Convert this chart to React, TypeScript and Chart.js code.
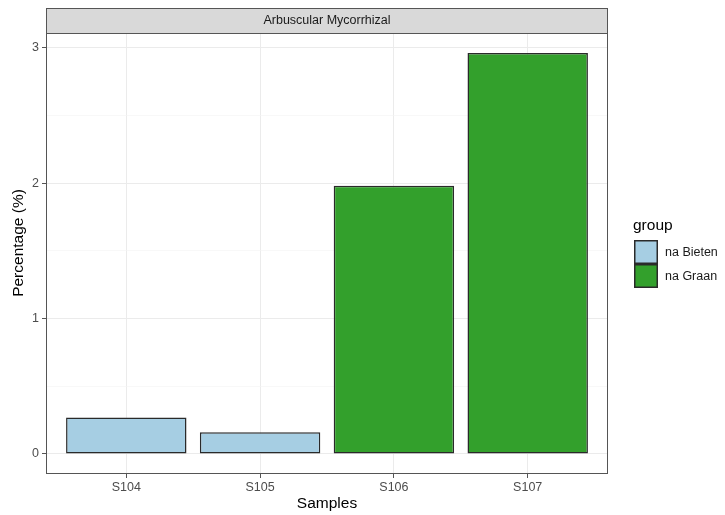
import React, { useEffect, useRef } from "react";
import { Chart, registerables } from "chart.js";

Chart.register(...registerables);

const samples = ["S104", "S105", "S106", "S107"];
const groups = ["na Bieten", "na Graan"];
const bietenValues: (number | null)[] = [0.27, 0.16, null, null];
const graanValues: (number | null)[] = [null, null, 1.98, 2.96];
const groupColors = ["#a6cee3", "#33a02c"];
const yMajorTicks = [0, 1, 2, 3];
const yMinorTicks = [0.5, 1.5, 2.5];
const stripLabel = "Arbuscular Mycorrhizal";
const xTitle = "Samples";
const yTitle = "Percentage (%)";
const legendTitle = "group";

const FONT = "'Liberation Sans', Arial, sans-serif";
const SMALL = 12.5;
const TITLE = 15.5;

function toPoints(values: (number | null)[]) {
  const pts: { x: number; y: number }[] = [];
  values.forEach((v, i) => {
    if (v !== null) pts.push({ x: i + 1, y: v });
  });
  return pts;
}

const allValues = [...bietenValues, ...graanValues].filter((v) => v !== null) as number[];
const dataMax = Math.max(...allValues);
const yMin = -0.05 * dataMax;
const yMax = dataMax * 1.05;

const decorPlugin = {
  id: "decor",
  beforeDraw(chart: any) {
    const { ctx } = chart;
    ctx.save();
    ctx.fillStyle = "#ffffff";
    ctx.fillRect(0, 0, chart.width, chart.height);
    ctx.restore();
  },
  afterDraw(chart: any) {
    const { ctx, chartArea: a } = chart;
    ctx.save();
    // panel border
    ctx.strokeStyle = "#555555";
    ctx.lineWidth = 1;
    ctx.strokeRect(a.left + 0.5, a.top + 0.5, a.right - a.left - 1, a.bottom - a.top - 1);
    // strip
    const stripTop = 8;
    ctx.fillStyle = "#d9d9d9";
    ctx.fillRect(a.left, stripTop, a.right - a.left, a.top - stripTop);
    ctx.strokeRect(a.left + 0.5, stripTop + 0.5, a.right - a.left - 1, a.top - stripTop);
    ctx.fillStyle = "#1a1a1a";
    ctx.font = `${SMALL}px ${FONT}`;
    ctx.textAlign = "center";
    ctx.textBaseline = "middle";
    ctx.fillText(stripLabel, (a.left + a.right) / 2, (stripTop + a.top) / 2 + 0.5);
    // axis titles
    ctx.fillStyle = "#000000";
    ctx.font = `${TITLE}px ${FONT}`;
    ctx.fillText(xTitle, (a.left + a.right) / 2, 504);
    ctx.save();
    ctx.translate(19, (stripTop + a.bottom) / 2 + 2);
    ctx.rotate(-Math.PI / 2);
    ctx.fillText(yTitle, 0, 0);
    ctx.restore();
    // legend
    ctx.textAlign = "left";
    ctx.font = `${TITLE}px ${FONT}`;
    ctx.fillText(legendTitle, 633, 226);
    const keyX = 634;
    const keyY = 240;
    const keySize = 24;
    groups.forEach((g, i) => {
      ctx.fillStyle = groupColors[i];
      ctx.fillRect(keyX, keyY + i * keySize, keySize, keySize);
      ctx.strokeStyle = "#2a2a2a";
      ctx.lineWidth = 1.5;
      ctx.strokeRect(keyX + 0.75, keyY + i * keySize + 0.75, keySize - 1.5, keySize - 1.5);
      ctx.fillStyle = "#1a1a1a";
      ctx.font = `${SMALL}px ${FONT}`;
      ctx.fillText(g, 665, keyY + i * keySize + keySize / 2 + 0.5);
    });
    ctx.restore();
  },
};

export default function App() {
  const canvasRef = useRef<HTMLCanvasElement | null>(null);

  useEffect(() => {
    if (!canvasRef.current) return;
    const chart = new Chart(canvasRef.current, {
      type: "bar",
      data: {
        datasets: [
          {
            label: groups[0],
            data: toPoints(bietenValues) as any,
            backgroundColor: groupColors[0],
            borderColor: "#2a2a2a",
            borderWidth: 1.5,
            borderSkipped: false,
          },
          {
            label: groups[1],
            data: toPoints(graanValues) as any,
            backgroundColor: groupColors[1],
            borderColor: "#2a2a2a",
            borderWidth: 1.5,
            borderSkipped: false,
          },
        ],
      },
      options: {
        animation: false,
        responsive: false,
        devicePixelRatio: 1,
        grouped: false,
        categoryPercentage: 0.9,
        barPercentage: 1,
        layout: { padding: { left: 0, top: 33, right: 117, bottom: 0 } },
        plugins: {
          legend: { display: false },
          tooltip: { enabled: false },
        },
        scales: {
          x: {
            type: "linear",
            min: 0.4,
            max: samples.length + 0.6,
            offset: false,
            afterBuildTicks: (scale: any) => {
              scale.ticks = samples.map((_, i) => ({ value: i + 1 }));
            },
            afterFit: (scale: any) => {
              scale.height = 41;
            },
            border: { display: false },
            grid: {
              offset: false,
              color: "#ebebeb",
              lineWidth: 1,
              tickLength: 4,
              tickColor: "#555555",
            },
            ticks: {
              color: "#4d4d4d",
              font: { family: FONT, size: SMALL },
              padding: 2,
              maxRotation: 0,
              callback: (v: any) => samples[Math.round(Number(v)) - 1] ?? "",
            },
          },
          y: {
            type: "linear",
            min: yMin,
            max: yMax,
            afterBuildTicks: (scale: any) => {
              scale.ticks = [...yMajorTicks, ...yMinorTicks]
                .sort((a, b) => a - b)
                .map((v) => ({ value: v }));
            },
            afterFit: (scale: any) => {
              scale.width = 46;
            },
            border: { display: false },
            grid: {
              color: (c: any) => (Number.isInteger(c.tick?.value) ? "#ebebeb" : "#f4f4f4"),
              lineWidth: (c: any) => (Number.isInteger(c.tick?.value) ? 1 : 0.6),
              tickLength: 4,
              tickColor: (c: any) => (Number.isInteger(c.tick?.value) ? "#555555" : "rgba(0,0,0,0)"),
            },
            ticks: {
              color: "#4d4d4d",
              font: { family: FONT, size: SMALL },
              padding: 3,
              callback: (v: any) => (yMajorTicks.includes(Number(v)) ? String(v) : ""),
            },
          },
        },
      } as any,
      plugins: [decorPlugin],
    });
    return () => chart.destroy();
  }, []);

  return (
    <div style={{ position: "absolute", left: 0, top: 0, width: 725, height: 515 }}>
      <canvas ref={canvasRef} width={725} height={515} style={{ display: "block" }} />
    </div>
  );
}
